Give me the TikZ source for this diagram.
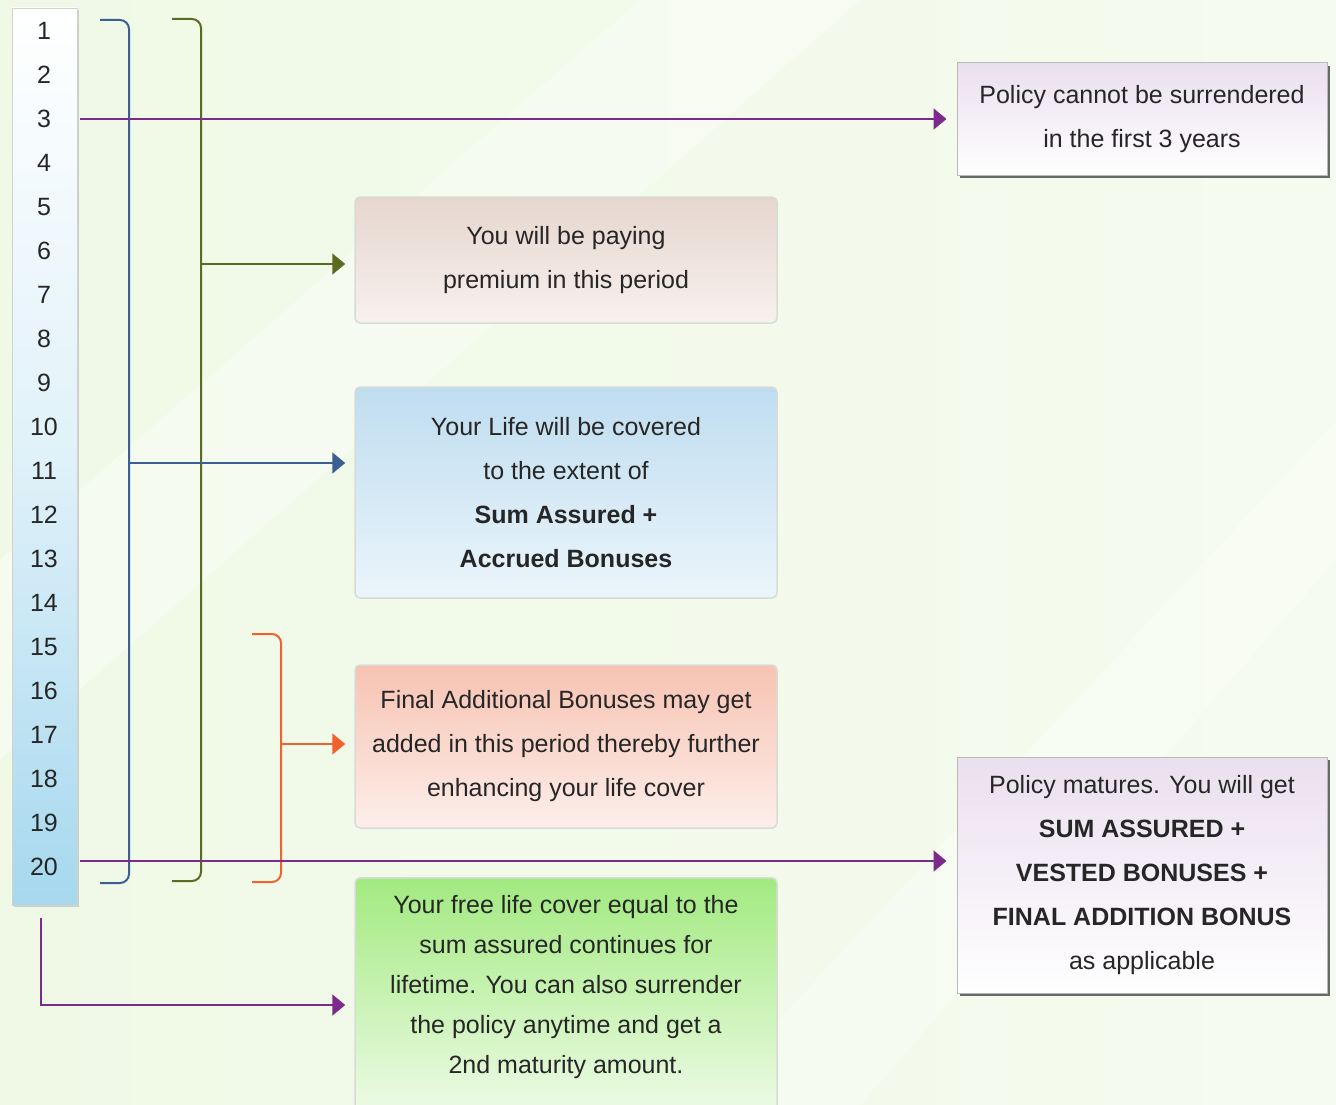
\documentclass[tikz,border=0pt]{standalone}
\usepackage{fontspec}
\setmainfont{Liberation Sans}
\usetikzlibrary{arrows.meta,shadows}
\definecolor{ink}{HTML}{262626}
\definecolor{lapse}{HTML}{7D2A8C}
\definecolor{cover}{HTML}{3A6093}
\definecolor{premium}{HTML}{5C6A22}
\definecolor{bonus}{HTML}{F0632E}
\definecolor{bgleft}{HTML}{F0F9E6}
\definecolor{bgright}{HTML}{F5FBEF}
\definecolor{colblue}{HTML}{A6D8EE}
\definecolor{notegray}{HTML}{D9DCD6}
\definecolor{paytop}{HTML}{E6D6CE}
\definecolor{paybot}{HTML}{F8F1EE}
\definecolor{covtop}{HTML}{BFDDF0}
\definecolor{covbot}{HTML}{EBF5FB}
\definecolor{fabtop}{HTML}{F7C3B3}
\definecolor{fabbot}{HTML}{FDEEEA}
\definecolor{freetop}{HTML}{A2EA80}
\definecolor{freebot}{HTML}{F2FCEC}
\definecolor{cardtop}{HTML}{EADFEE}
\begin{document}
\begin{tikzpicture}[x=1pt, y=-1pt,
	every node/.style={text=ink, font=\fontsize{25}{44}\selectfont},
	brk/.style={line width=2pt, rounded corners=9pt},
	arr/.style={line width=2pt, -{Triangle[length=13pt,width=21pt]}, shorten >=9pt},
	note/.style={draw=notegray, line width=1.5pt, rounded corners=5pt, minimum width=422pt, align=center, inner sep=0pt},
	card/.style={draw=gray!55, line width=1pt, minimum width=370pt, align=center, inner sep=0pt,
		top color=cardtop, bottom color=white, drop shadow={shadow xshift=3pt, shadow yshift=-3pt, fill=black!65, opacity=.9}}]
	% background
	\useasboundingbox (0,0) rectangle (1336,1105);
	\clip (0,0) rectangle (1336,1105);
	\shade[left color=bgleft, right color=bgright] (0,0) rectangle (1336,1105);
	\fill[white, opacity=.35] (0,560) -- (640,0) -- (860,0) -- (0,760) -- cycle;
	\fill[white, opacity=.3] (700,1105) -- (1336,420) -- (1336,560) -- (860,1105) -- cycle;
	% year column
	\node[top color=white, bottom color=colblue, middle color=colblue!35, draw=gray!35, line width=.8pt,
		drop shadow={shadow xshift=2pt, shadow yshift=-2pt, fill=gray!60, opacity=.6},
		minimum width=65pt, minimum height=897pt, inner sep=0pt] (col) at (44.5,456.5) {};
	\foreach \i in {1,...,20}
		\node (n\i) at (44, 31+44*\i-44) {\i};
	% brackets
	\draw[brk, cover] (100,20) -- (129,20) -- (129,883) -- (100,883);
	\draw[brk, premium] (172,19) -- (201,19) -- (201,881) -- (172,881);
	\draw[brk, bonus] (252,634) -- (281,634) -- (281,882) -- (252,882);
	% boxes in the middle
	\node[note, top color=paytop, bottom color=paybot, minimum height=126pt] (paying) at (566,260)
		{You will be paying\\premium in this period};
	\node[note, top color=covtop, bottom color=covbot, minimum height=211pt] (covered) at (566,492.5)
		{Your Life will be covered\\to the extent of\\\textbf{Sum Assured +}\\\textbf{Accrued Bonuses}};
	\node[note, top color=fabtop, bottom color=fabbot, minimum height=163pt] (final) at (566,746.5)
		{Final Additional Bonuses may get\\added in this period thereby further\\enhancing your life cover};
	\node[note, top color=freetop, bottom color=freebot, minimum height=250pt, anchor=north] (free) at (566,877) {};
	\node[align=center, font=\fontsize{25}{40}\selectfont] (freetext) at (566,987)
		{Your free life cover equal to the\\sum assured continues for\\lifetime. You can also surrender\\the policy anytime and get a\\2nd maturity amount.};
	% boxes on the right
	\node[card, minimum height=112pt] (nosurr) at (1142,119)
		{Policy cannot be surrendered\\in the first 3 years};
	\node[card, minimum height=236pt] (maturity) at (1142,875)
		{Policy matures. You will get\\\textbf{SUM ASSURED +}\\\textbf{VESTED BONUSES +}\\\textbf{FINAL ADDITION BONUS}\\as applicable};
	% arrows
	\coordinate (pay) at (201,264);
	\draw[arr, premium] (pay) -- (pay -| paying.west);
	\coordinate (cov) at (129,463);
	\draw[arr, cover] (cov) -- (cov -| covered.west);
	\coordinate (fab) at (281,744);
	\draw[arr, bonus] (fab) -- (fab -| final.west);
	\draw[arr, lapse, shorten >=10pt] (col.east |- n3) ++(3,0) -- (nosurr.west);
	\coordinate (mat) at (80,861);
	\draw[arr, lapse, shorten >=10pt] (mat) -- (mat -| maturity.west);
	\coordinate (life) at (41,918);
	\coordinate (lifeend) at (0,1005);
	\draw[arr, lapse] (life) |- (lifeend -| free.west);
\end{tikzpicture}
\end{document}
